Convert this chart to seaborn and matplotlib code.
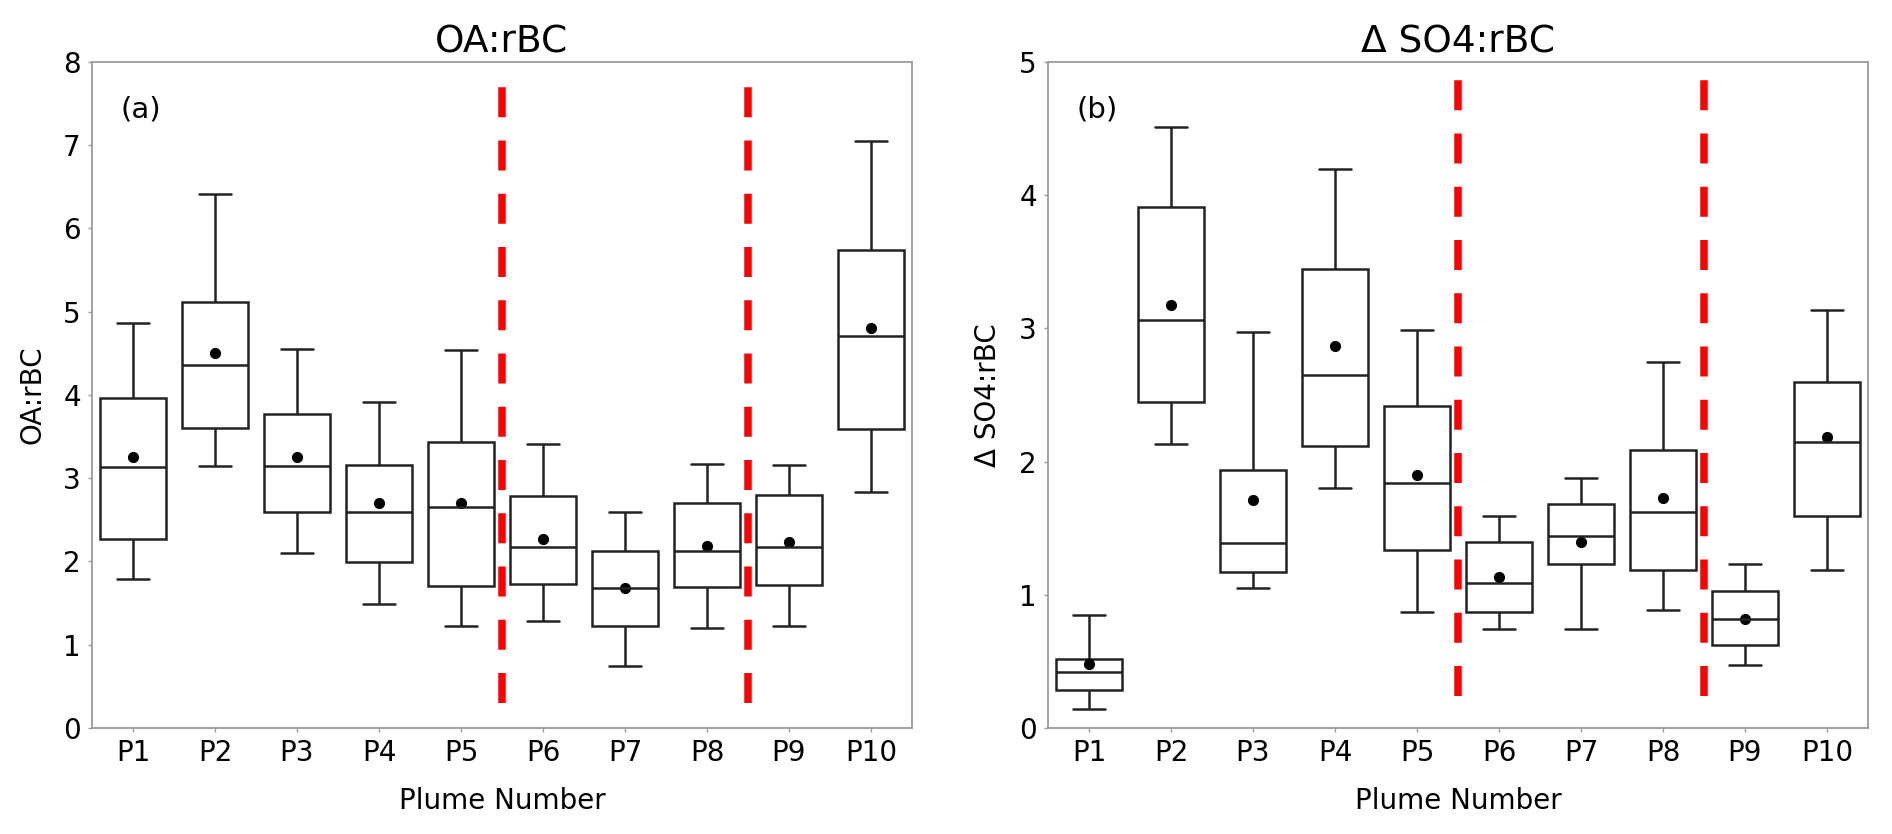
import numpy as np
import pandas as pd
import seaborn as sns
import matplotlib.pyplot as plt

# Plume labels
plumes = ['P1', 'P2', 'P3', 'P4', 'P5', 'P6', 'P7', 'P8', 'P9', 'P10']

# OA:rBC box stats
oa_low = [1.79, 3.15, 2.10, 1.49, 1.23, 1.28, 0.74, 1.20, 1.23, 2.84]
oa_q1 = [2.27, 3.60, 2.60, 1.99, 1.71, 1.73, 1.22, 1.69, 1.72, 3.59]
oa_med = [3.14, 4.36, 3.15, 2.60, 2.66, 2.17, 1.68, 2.13, 2.17, 4.71]
oa_q3 = [3.96, 5.12, 3.77, 3.16, 3.44, 2.79, 2.13, 2.70, 2.80, 5.74]
oa_high = [4.87, 6.42, 4.55, 3.92, 4.54, 3.41, 2.59, 3.17, 3.16, 7.05]
oa_mean = [3.25, 4.50, 3.25, 2.70, 2.70, 2.27, 1.68, 2.19, 2.24, 4.81]

# Delta SO4:rBC box stats
so4_low = [0.14, 2.13, 1.05, 1.80, 0.87, 0.74, 0.74, 0.885, 0.47, 1.185]
so4_q1 = [0.285, 2.445, 1.17, 2.12, 1.34, 0.87, 1.23, 1.185, 0.62, 1.59]
so4_med = [0.42, 3.065, 1.39, 2.65, 1.84, 1.09, 1.44, 1.62, 0.82, 2.145]
so4_q3 = [0.52, 3.91, 1.94, 3.445, 2.42, 1.40, 1.68, 2.085, 1.03, 2.595]
so4_high = [0.85, 4.51, 2.97, 4.20, 2.99, 1.59, 1.88, 2.75, 1.23, 3.14]
so4_mean = [0.48, 3.175, 1.71, 2.87, 1.90, 1.13, 1.40, 1.73, 0.82, 2.185]

# Red dashed separators go after these plumes
separators = ['P5', 'P8']


# Function to turn box stats into long data (5 points give exact quartiles)
def box_frame(low, q1, med, q3, high):
    rows = []
    for i, p in enumerate(plumes):
        for v in (low[i], q1[i], med[i], q3[i], high[i]):
            rows.append({'Plume': p, 'value': v})
    return pd.DataFrame(rows)


sns.set_style('white')
plt.rcParams['font.family'] = ['DejaVu Sans']
plt.rcParams['text.color'] = 'black'
plt.rcParams['axes.labelcolor'] = 'black'
plt.rcParams['xtick.labelcolor'] = 'black'
plt.rcParams['ytick.labelcolor'] = 'black'

fig = plt.figure(figsize=(18.92, 8.34), dpi=100)
ax1 = fig.add_axes([0.0486, 0.1271, 0.4334, 0.7986])
ax2 = fig.add_axes([0.5539, 0.1271, 0.4334, 0.7986])

panels = [
    (ax1, box_frame(oa_low, oa_q1, oa_med, oa_q3, oa_high), oa_mean,
     'OA:rBC', 'OA:rBC', '(a)', 8, (0.037, 0.968)),
    (ax2, box_frame(so4_low, so4_q1, so4_med, so4_q3, so4_high), so4_mean,
     'Δ SO4:rBC', 'Δ SO4:rBC', '(b)', 5, (0.048, 0.979)),
]

for ax, df, means, title, ylab, tag, ymax, vspan in panels:
    sns.boxplot(data=df, x='Plume', y='value', order=plumes, ax=ax,
                whis=(0, 100), showfliers=False, width=0.8,
                color='white', linecolor='#222222', linewidth=1.8)
    sns.pointplot(x=plumes, y=means, order=plumes, ax=ax, color='black',
                  linestyle='none', marker='o', markersize=6, errorbar=None)

    # Separator lines between plume groups
    for s in separators:
        ax.axvline(plumes.index(s) + 0.5, ymin=vspan[0], ymax=vspan[1],
                   color='red', linewidth=5.4, dashes=(4, 3.1), zorder=5)

    ax.set_ylim(0, ymax)
    ax.set_yticks(range(0, ymax + 1))
    ax.set_title(title, fontsize=27, pad=7, color='black')
    ax.set_ylabel(ylab, fontsize=20, labelpad=12)
    ax.set_xlabel('Plume Number', fontsize=20, labelpad=14)
    ax.text(0.035, 0.95, tag, transform=ax.transAxes, fontsize=21, va='top')
    ax.tick_params(axis='both', labelsize=20, bottom=True, left=True,
                   length=3, width=1, color='#999999', labelcolor='black', pad=5)
    for sp in ax.spines.values():
        sp.set_color('#9a9a9a')
        sp.set_linewidth(1.3)

plt.savefig('out.png', dpi=100)
